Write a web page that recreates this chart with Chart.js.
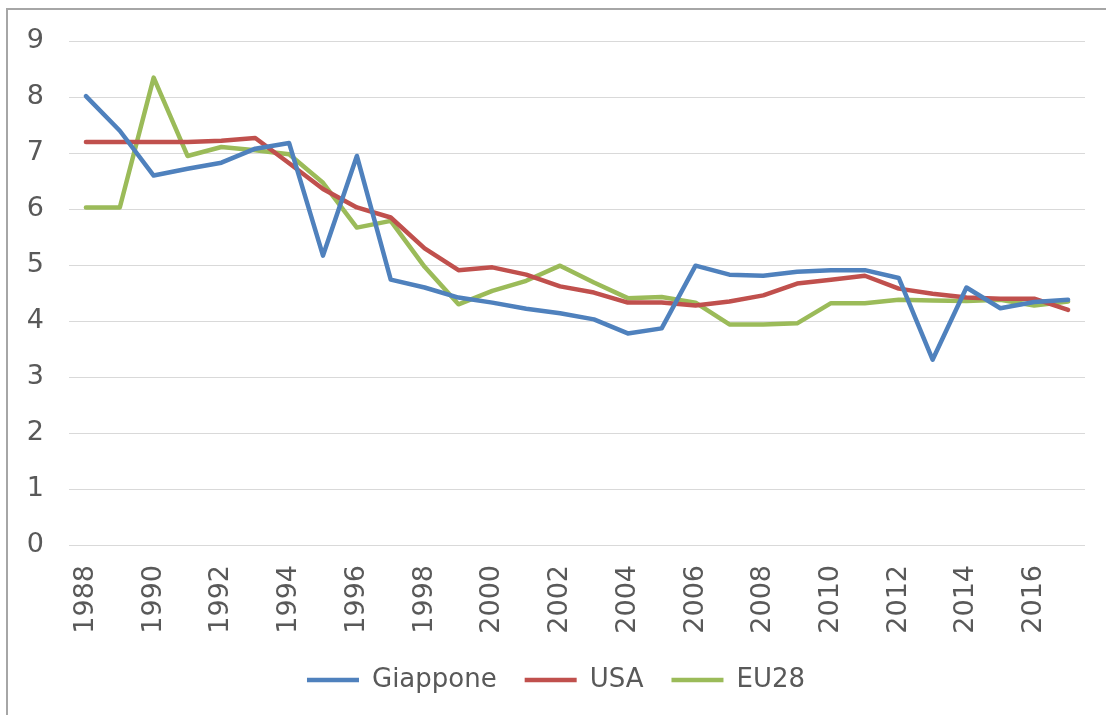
<!DOCTYPE html>
<html>
<head>
  <meta charset="UTF-8">
  <title>Giappone, USA, EU28 1988-2017</title>
  <script src="https://cdn.jsdelivr.net/npm/chart.js"></script>
  <style>
    html, body { margin: 0; padding: 0; background: #fff; }
    #frame { position: absolute; left: 6px; top: 8px; width: 1200px; height: 800px;
             border-left: 2px solid #a6a6a6; border-top: 2px solid #a6a6a6; }
    #chartContainer { position: absolute; left: 0; top: 0; width: 1106px; height: 715px; }
  </style>
</head>
<body>
  <div id="frame"></div>
  <div id="chartContainer">
    <canvas id="lineChart"></canvas>
  </div>

  <script>
    // Years on the category axis
    const years = ['1988','1989','1990','1991','1992','1993','1994','1995','1996','1997',
                   '1998','1999','2000','2001','2002','2003','2004','2005','2006','2007',
                   '2008','2009','2010','2011','2012','2013','2014','2015','2016','2017'];

    // Values
    const giappone = [8.02, 7.40, 6.60, 6.72, 6.83, 7.08, 7.18, 5.17, 6.95, 4.74,
                      4.60, 4.42, 4.33, 4.22, 4.14, 4.03, 3.78, 3.87, 4.99, 4.83,
                      4.81, 4.88, 4.91, 4.91, 4.77, 3.31, 4.60, 4.23, 4.34, 4.38];
    const usa      = [7.20, 7.20, 7.20, 7.20, 7.22, 7.27, 6.82, 6.36, 6.03, 5.85,
                      5.30, 4.91, 4.96, 4.83, 4.62, 4.51, 4.33, 4.33, 4.28, 4.35,
                      4.46, 4.67, 4.74, 4.81, 4.58, 4.49, 4.42, 4.40, 4.40, 4.20];
    const eu28     = [6.03, 6.03, 8.35, 6.95, 7.11, 7.05, 6.98, 6.47, 5.67, 5.79,
                      4.97, 4.30, 4.54, 4.72, 4.99, 4.69, 4.41, 4.43, 4.33, 3.94,
                      3.94, 3.96, 4.32, 4.32, 4.38, 4.37, 4.36, 4.38, 4.28, 4.35];

    const yTicks = [0, 1, 2, 3, 4, 5, 6, 7, 8, 9];

    const textColor = '#595959';
    const fontFamily = '"DejaVu Sans", Verdana, sans-serif';
    const plotBottom = 545;

    function series(label, data, color) {
      return {
        label: label,
        data: data,
        borderColor: color,
        backgroundColor: color,
        borderWidth: 4.5,
        borderCapStyle: 'round',
        borderJoinStyle: 'round',
        pointRadius: 0,
        pointHoverRadius: 0,
        tension: 0,
        fill: false
      };
    }

    const ctx = document.getElementById('lineChart').getContext('2d');
    const lineChart = new Chart(ctx, {
      type: 'line',
      data: {
        labels: years,
        datasets: [
          series('Giappone', giappone, '#4F81BD'),
          series('USA', usa, '#C0504D'),
          series('EU28', eu28, '#9BBB59')
        ]
      },
      options: {
        responsive: true,
        maintainAspectRatio: false,
        animation: false,
        layout: { padding: { left: 27, right: 21, top: 27, bottom: 12 } },
        plugins: {
          tooltip: { enabled: false },
          legend: {
            position: 'bottom',
            labels: {
              usePointStyle: true,
              pointStyle: 'line',
              pointStyleWidth: 52,
              padding: 28,
              color: textColor,
              font: { family: fontFamily, size: 26 }
            }
          }
        },
        scales: {
          x: {
            offset: true,
            grid: { display: false },
            border: { display: false },
            afterFit: function (scale) {
              // keep the plot bottom where the reference has it
              const legendH = scale.chart.legend ? scale.chart.legend.height : 0;
              scale.height = scale.chart.height - 12 - legendH - plotBottom;
              scale.paddingLeft = 0;
              scale.paddingRight = 0;
            },
            ticks: {
              autoSkip: false,
              maxRotation: 90,
              minRotation: 90,
              padding: 12,
              color: textColor,
              font: { family: fontFamily, size: 27 },
              callback: function (value, index) {
                return index % 2 === 0 ? years[index] : '';
              }
            }
          },
          y: {
            min: yTicks[0],
            max: yTicks[yTicks.length - 1],
            afterBuildTicks: function (scale) {
              scale.ticks = yTicks.map(v => ({ value: v }));
            },
            afterFit: function (scale) {
              scale.width = 42;
            },
            grid: { color: '#d9d9d9', lineWidth: 1, drawTicks: false },
            border: { display: false },
            ticks: {
              padding: 25,
              color: textColor,
              font: { family: fontFamily, size: 27 }
            }
          }
        }
      }
    });
  </script>
</body>
</html>
